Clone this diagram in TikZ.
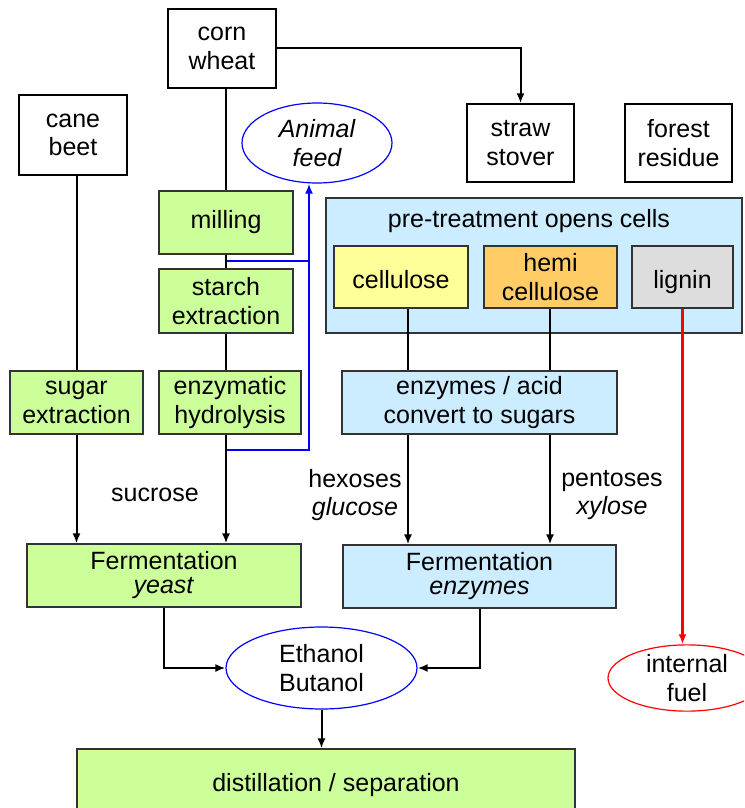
\documentclass[tikz,border=0pt]{standalone}
\usepackage{fontspec}
\setmainfont{Liberation Sans}
\usetikzlibrary{arrows.meta,shapes.geometric}
\definecolor{leafgreen}{HTML}{CCFF99}
\definecolor{skyblue}{HTML}{CCECFF}
\definecolor{paleyellow}{HTML}{FFFF99}
\definecolor{amber}{HTML}{FFCC66}
\definecolor{ligngrey}{HTML}{DDDDDD}
\definecolor{boxline}{HTML}{333333}
\newcommand\bodyfont{\fontsize{25}{28.5}\selectfont}
\newcommand\tightfont{\fontsize{25}{24}\selectfont}

\begin{document}
\begin{tikzpicture}[x=1pt,y=-1pt,>={Latex[length=10pt,width=8pt]},
  every node/.style={font=\bodyfont, align=center, inner sep=0pt},
  src/.style={draw=black, line width=1.3pt, fill=white},
  stage/.style={draw=boxline, line width=1.2pt, fill=leafgreen},
  cellstage/.style={draw=boxline, line width=1.2pt, fill=skyblue},
  product/.style={ellipse, draw=blue, line width=1.2pt, fill=white},
  lowtext/.style={text height=27pt, text depth=5pt},
  flow/.style={line width=2pt, black},
  feedline/.style={line width=2pt, blue},
  fuelline/.style={line width=2.2pt, red}]
\useasboundingbox (0,0) rectangle (744,808);
\clip (0,0) rectangle (744,808);

% raw materials
\node[src, minimum width=108, minimum height=79] (corn) at (222,48.5) {corn\\wheat};
\node[src, minimum width=108, minimum height=80] (cane) at (73,135) {cane\\beet};
\node[src, minimum width=107, minimum height=78] (straw) at (520.5,143) {straw\\stover};
\node[src, minimum width=107, minimum height=78] (forest) at (678.5,143) {forest\\residue};
\node[product, minimum width=150, minimum height=80, font=\bodyfont\itshape] (feed) at (317,143) {Animal\\feed};

% sugar and starch route
\node[stage, minimum width=134, minimum height=63] (milling) at (226,222.5) {milling};
\node[stage, minimum width=134, minimum height=64] (starch) at (226,301) {starch\\extraction};
\node[stage, minimum width=142, minimum height=63] (hydro) at (230,402.5) {enzymatic\\hydrolysis};
\node[stage, minimum width=133, minimum height=63] (sugar) at (76.5,402.5) {sugar\\extraction};

% cellulosic route
\node[cellstage, minimum width=416, minimum height=135] (pretreat) at (534,265.5) {};
\node (pretext) at (529,221) {pre-treatment opens cells};
\node[draw=boxline, line width=1.2pt, fill=paleyellow, minimum width=134, minimum height=62, lowtext] (cellulose) at (401,277) {cellulose};
\node[draw=boxline, line width=1.2pt, fill=amber, minimum width=133, minimum height=62] (hemi) at (550.5,277) {hemi\\cellulose};
\node[draw=boxline, line width=1.2pt, fill=ligngrey, minimum width=101, minimum height=62, lowtext] (lignin) at (682.5,277) {lignin};
\node[cellstage, minimum width=275, minimum height=63] (acid) at (479.5,402.5) {enzymes / acid\\convert to sugars};

% fermentation and products
\node[stage, minimum width=274, minimum height=63, font=\tightfont] (fermy) at (164,575.5) {Fermentation\\\textit{yeast}};
\node[cellstage, minimum width=273, minimum height=63, font=\tightfont] (ferme) at (479.5,576.5) {Fermentation\\\textit{enzymes}};
\node[product, minimum width=191, minimum height=82] (ethanol) at (321.5,668) {Ethanol\\Butanol};
\node[product, draw=red, minimum width=158, minimum height=62] (fuel) at (687,678) {internal\\fuel};
\node[stage, minimum width=498, minimum height=100] (distil) at (326,799) {};
\node (distext) at (336,785) {distillation / separation};

% labels on the arrows
\node (sucrose) at (155,495) {sucrose};
\node (hexoses) at (355,495) {hexoses\\\textit{glucose}};
\node (pentoses) at (612,495) {pentoses\\\textit{xylose}};

\coordinate (hex) at (408,0);
\coordinate (pent) at (550,0);
\coordinate (riser) at (309,0);
\coordinate (tap1) at (227,261);
\coordinate (tap2) at (227,450);

% connectors
\draw[flow,->] (corn.east) -| (straw.north);
\draw[flow] (corn.south -| milling.north) -- (milling.north);
\draw[flow] (milling) -- (starch);
\draw[flow] (starch.south) -- (starch.south |- hydro.north);
\draw[flow,->] (starch.south |- hydro.south) -- (starch.south |- fermy.north);
\draw[feedline] (tap1) -- (tap1 -| riser);
\draw[feedline,->] (tap2) -| (feed.south -| riser);
\draw[flow] (cane.south -| sugar.north) -- (sugar.north);
\draw[flow,->] (sugar.south) -- (sugar.south |- fermy.north);
\draw[flow] (cellulose.south -| hex) -- (hex |- acid.north);
\draw[flow] (hemi.south -| pent) -- (pent |- acid.north);
\draw[flow,->] (acid.south -| hex) -- (hex |- ferme.north);
\draw[flow,->] (acid.south -| pent) -- (pent |- ferme.north);
\draw[fuelline,->] (lignin.south) -- (lignin.south |- fuel.north);
\draw[flow,->] (fermy.south) |- (ethanol.west);
\draw[flow,->] (ferme.south) |- (ethanol.east);
\draw[flow,->] (ethanol.south) -- (ethanol.south |- distil.north);
\end{tikzpicture}
\end{document}
